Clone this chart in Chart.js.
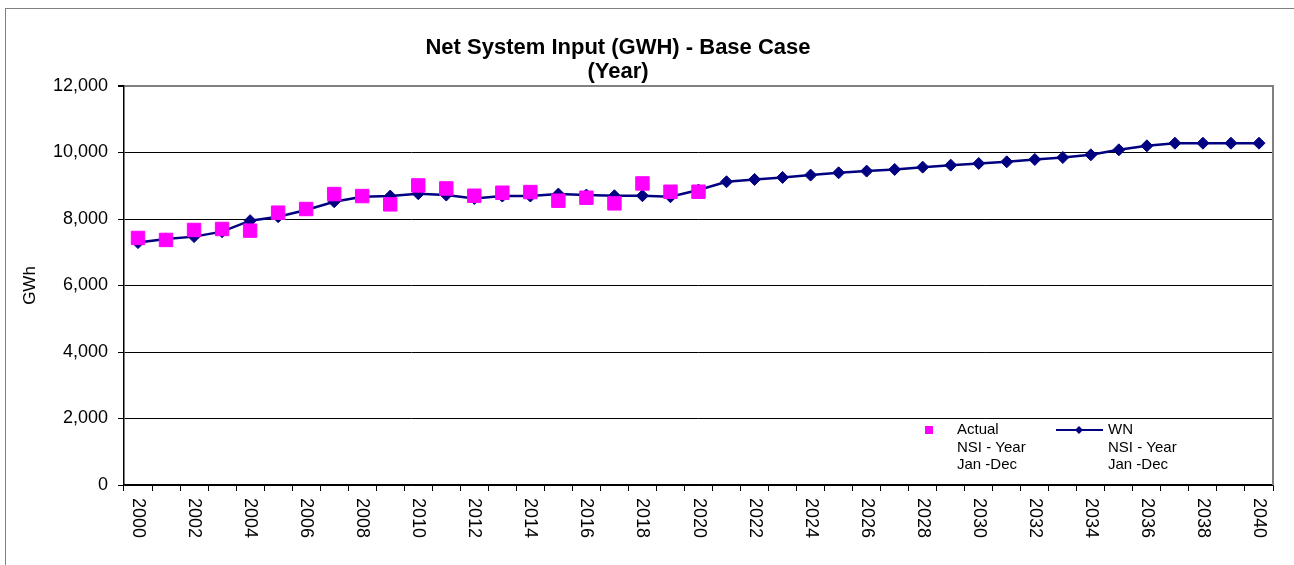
<!DOCTYPE html>
<html>
<head>
<meta charset="utf-8">
<script src="https://cdn.jsdelivr.net/npm/chart.js@4.4.1/dist/chart.umd.min.js"></script>
<style>
  html, body { margin: 0; padding: 0; background: #fff; overflow: hidden; }
  #frame { position: absolute; left: 5px; top: 8px; width: 1320px; height: 620px;
           border-left: 1.5px solid #808080; border-top: 1.5px solid #808080; }
  #wrap { position: absolute; left: 0; top: 0; width: 1294px; height: 565px; }
</style>
</head>
<body>
<div id="frame"></div>
<div id="wrap"><canvas id="myChart" width="1294" height="565"></canvas></div>
<script>
// Datos
const years = [2000, 2001, 2002, 2003, 2004, 2005, 2006, 2007, 2008, 2009,
               2010, 2011, 2012, 2013, 2014, 2015, 2016, 2017, 2018, 2019,
               2020, 2021, 2022, 2023, 2024, 2025, 2026, 2027, 2028, 2029,
               2030, 2031, 2032, 2033, 2034, 2035, 2036, 2037, 2038, 2039, 2040];
const labelledYears = [2000, 2002, 2004, 2006, 2008, 2010, 2012, 2014, 2016, 2018, 2020,
                       2022, 2024, 2026, 2028, 2030, 2032, 2034, 2036, 2038, 2040];
const actual = [7430, 7370, 7670, 7700, 7650, 8190, 8300, 8750, 8690, 8440,
                9010, 8920, 8700, 8790, 8810, 8550, 8640, 8470, 9070, 8820, 8820];
const wn = [7290, 7400, 7470, 7620, 7950, 8070, 8270, 8520, 8670, 8690,
            8760, 8720, 8620, 8690, 8690, 8750, 8720, 8700, 8700, 8670,
            8870, 9120, 9190, 9250, 9320, 9390, 9440, 9490, 9560, 9620,
            9670, 9720, 9790, 9850, 9930, 10080, 10200, 10280, 10280, 10280, 10280];
const yTicks = [0, 2000, 4000, 6000, 8000, 10000, 12000];
const titleLines = ['Net System Input (GWH) - Base Case', '(Year)'];
const actualLegend = ['Actual', 'NSI - Year', 'Jan -Dec'];
const wnLegend = ['WN', 'NSI - Year', 'Jan -Dec'];

const FONT = '"Liberation Sans", Arial, sans-serif';
const magenta = '#FF00FF';
const navy = '#000080';

Chart.defaults.font.family = FONT;
Chart.defaults.color = '#000';

// Titulo
const titlePlugin = {
    id: 'titulo',
    afterDraw(chart) {
        const ctx = chart.ctx;
        ctx.save();
        ctx.font = 'bold 22px ' + FONT;
        ctx.fillStyle = '#000';
        ctx.textAlign = 'center';
        ctx.textBaseline = 'alphabetic';
        ctx.fillText(titleLines[0], 618, 54);
        ctx.fillText(titleLines[1], 618, 78);
        ctx.restore();
    }
};

// Etiquetas del eje x, giradas
const xLabelsPlugin = {
    id: 'xlabels',
    afterDraw(chart) {
        const ctx = chart.ctx;
        const xs = chart.scales.x;
        ctx.save();
        ctx.font = '18px ' + FONT;
        ctx.fillStyle = '#000';
        ctx.textAlign = 'left';
        ctx.textBaseline = 'middle';
        for (const yr of labelledYears) {
            const px = xs.getPixelForValue(years.indexOf(yr));
            ctx.save();
            ctx.translate(px, xs.top + 13);
            ctx.rotate(Math.PI / 2);
            ctx.fillText(String(yr), 0, 0);
            ctx.restore();
        }
        ctx.restore();
    }
};

// Borde derecho del area
const borderPlugin = {
    id: 'borde',
    afterDraw(chart) {
        const {ctx, chartArea} = chart;
        ctx.save();
        ctx.strokeStyle = '#808080';
        ctx.lineWidth = 2;
        ctx.beginPath();
        ctx.moveTo(chartArea.right, chartArea.top - 1);
        ctx.lineTo(chartArea.right, chartArea.bottom);
        ctx.stroke();
        ctx.restore();
    }
};

// Leyenda
const legendPlugin = {
    id: 'leyenda',
    afterDraw(chart) {
        const {ctx, chartArea} = chart;
        const x0 = chartArea.left, y0 = chartArea.top;
        const lineYs = [344, 361.5, 379];
        ctx.save();
        ctx.fillStyle = magenta;
        ctx.fillRect(x0 + 801, y0 + 340, 8, 8);

        ctx.strokeStyle = navy;
        ctx.lineWidth = 2;
        ctx.beginPath();
        ctx.moveTo(x0 + 932, y0 + 344);
        ctx.lineTo(x0 + 979, y0 + 344);
        ctx.stroke();
        ctx.fillStyle = navy;
        ctx.beginPath();
        ctx.moveTo(x0 + 955 - 4, y0 + 344);
        ctx.lineTo(x0 + 955, y0 + 340);
        ctx.lineTo(x0 + 955 + 4, y0 + 344);
        ctx.lineTo(x0 + 955, y0 + 348);
        ctx.closePath();
        ctx.fill();

        ctx.font = '15px ' + FONT;
        ctx.fillStyle = '#000';
        ctx.textAlign = 'left';
        ctx.textBaseline = 'middle';
        for (let i = 0; i < actualLegend.length; i++) {
            ctx.fillText(actualLegend[i], x0 + 833, y0 + lineYs[i]);
        }
        for (let i = 0; i < wnLegend.length; i++) {
            ctx.fillText(wnLegend[i], x0 + 984, y0 + lineYs[i]);
        }
        ctx.restore();
    }
};

const ctx = document.getElementById('myChart');
const myChart = new Chart(ctx, {
    type: 'line',
    data: {
        labels: years,
        datasets: [{
            label: 'Actual',
            data: actual,
            showLine: false,
            pointStyle: 'rect',
            pointRadius: 9.5,
            pointBackgroundColor: magenta,
            pointBorderColor: magenta,
            pointBorderWidth: 1,
            backgroundColor: magenta,
            borderColor: magenta,
            order: 0
        }, {
            label: 'WN',
            data: wn,
            borderColor: navy,
            borderWidth: 2.5,
            tension: 0,
            pointStyle: 'rectRot',
            pointRadius: 6,
            pointBackgroundColor: navy,
            pointBorderColor: navy,
            pointBorderWidth: 1,
            order: 1
        }]
    },
    options: {
        responsive: false,
        animation: false,
        layout: { padding: { top: 86, right: 21, bottom: 0, left: 0 } },
        plugins: {
            legend: { display: false },
            tooltip: { enabled: false },
            title: { display: false }
        },
        scales: {
            x: {
                offset: true,
                afterFit: function (s) { s.height = 80; },
                ticks: { display: false, autoSkip: false },
                grid: {
                    offset: true,
                    drawOnChartArea: false,
                    drawTicks: true,
                    tickLength: 6,
                    color: '#000'
                },
                border: { color: '#000', width: 1.5 }
            },
            y: {
                min: 0,
                max: 12000,
                afterFit: function (s) { s.width = 124; },
                afterBuildTicks: function (s) {
                    s.ticks = yTicks.map(function (v) { return { value: v }; });
                },
                ticks: {
                    padding: 10,
                    font: { size: 18 },
                    callback: function (v) { return v.toLocaleString('en-US'); }
                },
                grid: {
                    color: function (c) { return c.tick && c.tick.value === 12000 ? '#808080' : '#000'; },
                    lineWidth: function (c) { return c.tick && c.tick.value === 12000 ? 2 : 1; },
                    tickColor: '#000',
                    tickLength: 6
                },
                border: { color: '#000', width: 1.5 },
                title: {
                    display: true,
                    text: 'GWh',
                    font: { size: 17 },
                    padding: { top: 20, bottom: 0 }
                }
            }
        }
    },
    plugins: [titlePlugin, xLabelsPlugin, borderPlugin, legendPlugin]
});
</script>
</body>
</html>
